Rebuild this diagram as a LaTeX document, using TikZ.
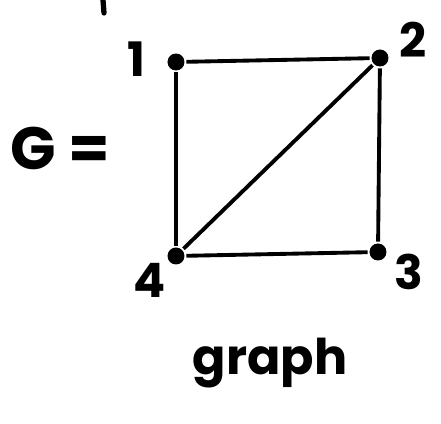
\documentclass[tikz,border=0pt]{standalone}
\usepackage{fontspec}
\setmainfont{Poppins}
\usetikzlibrary{positioning}

\begin{document}
\begin{tikzpicture}[
  vertex/.style={circle, fill, inner sep=0pt, minimum size=0.34cm},
  num/.style={font=\fontsize{27}{27}\selectfont\bfseries},
  line width=2.2pt
]
\useasboundingbox (0,0) rectangle (8.82,8.48);

\node[vertex] (v1) at (3.52, 7.24) {};
\node[vertex] (v2) at (7.60, 7.32) {};
\node[vertex] (v3) at (7.56, 3.44) {};
\node[vertex] (v4) at (3.52, 3.36) {};

\node[num] (l1) at (2.72, 7.30) {1};
\node[num] (l2) at (8.26, 7.68) {2};
\node[num] (l3) at (8.18, 3.04) {3};
\node[num] (l4) at (3.00, 2.88) {4};

\node[font=\fontsize{34}{34}\selectfont\bfseries] (g) at (1.20, 5.52) {G =};
\node[font=\fontsize{28}{28}\selectfont\bfseries] (word) at (5.40, 1.22) {graph};

\draw (v1) -- (v2);
\draw (v2) -- (v3);
\draw (v3) -- (v4);
\draw (v4) -- (v1);
\draw (v4) -- (v2);

% stroke cut off at the top edge
\draw[line width=3pt, line cap=round] (2.06, 8.48) -- (2.08, 8.22);

\end{tikzpicture}
\end{document}
